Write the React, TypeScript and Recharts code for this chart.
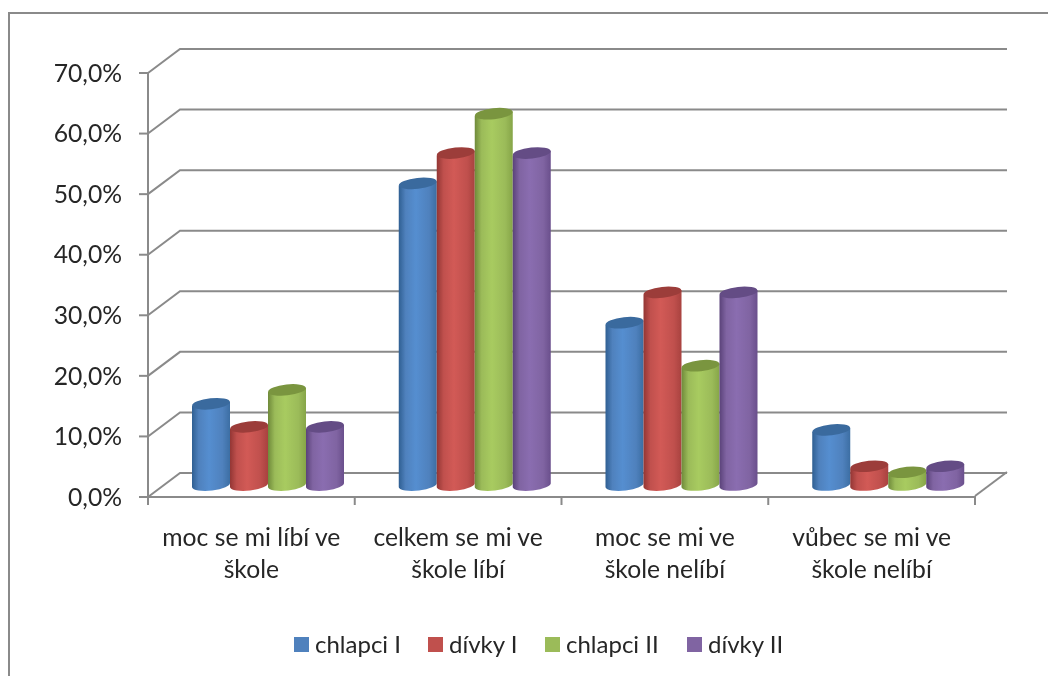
import { Bar, BarChart, CartesianGrid, Legend, XAxis, YAxis } from "recharts";

const categories = [
  ["moc se mi líbí ve", "škole"],
  ["celkem se mi ve", "škole líbí"],
  ["moc se mi ve", "škole nelíbí"],
  ["vůbec se mi ve", "škole nelíbí"],
];
const chlapciI = [13.4, 49.8, 26.8, 9.1];
const divkyI = [9.6, 54.8, 31.8, 3.1];
const chlapciII = [15.7, 61.3, 19.7, 2.1];
const divkyII = [9.6, 54.8, 31.8, 3.1];
const yTicks = [0, 10, 20, 30, 40, 50, 60, 70];

const seriesNames = ["chlapci I", "dívky I", "chlapci II", "dívky II"];
const seriesData = [chlapciI, divkyI, chlapciII, divkyII];
const seriesColors = ["#4f81bd", "#c0504d", "#9bbb59", "#8064a2"];
const seriesGradients = [
  ["#2f5f92", "#558ed0", "#3c6ea3", "#3a6a9e"],
  ["#933634", "#d25a56", "#a8423f", "#9c3d3a"],
  ["#6f8a3a", "#a8cb60", "#86a548", "#7a953f"],
  ["#5a4279", "#8a6db0", "#6a4f8c", "#644c85"],
];

const data = categories.map((c, i) => {
  const row: any = { name: c.join(" ") };
  seriesNames.forEach((n, s) => (row[n] = seriesData[s][i]));
  return row;
});

const WIDTH = 1048;
const HEIGHT = 676;
const LEFT = 148;
const RIGHT = 975;
const TOP = 73;
const BOTTOM = 496;
const DEPTH_X = 32;
const DEPTH_Y = 24;
const LEGEND_H = 29; // the legend takes this off the plot area
const LEGEND_ITEM_W = [134, 117, 142, 100];
const CAT_W = (RIGHT - LEFT) / categories.length;
const AXIS = "#8a8a8a";
const TEXT = "#262626";
const FONT = "Lato, 'Open Sans', sans-serif";
const AXIS_FONT_SIZE = 24.7;
const LEGEND_FONT_SIZE = 24;

function Cylinder({ x, y, width, height, index }: any) {
  const s = index;
  const cx = x + DEPTH_X / 2;
  const top = y - DEPTH_Y / 2;
  const bot = top + height;
  const t = 2.2;
  const rx = width / 2;
  const ry = 5.5;
  const rot = -6;
  const body = `M${cx},${top + t} L${cx},${bot + t} A${rx},${ry} ${rot} 0 0 ${cx + width},${bot - t} L${cx + width},${top - t} Z`;
  return (
    <g>
      <path d={body} fill={`url(#cyl${s})`} />
      <ellipse
        cx={cx + rx}
        cy={top}
        rx={rx}
        ry={ry}
        transform={`rotate(${rot} ${cx + rx} ${top})`}
        fill={seriesGradients[s][3]}
      />
    </g>
  );
}

function GridLine({ x1, y1, x2 }: any) {
  return (
    <polyline
      points={`${x1},${y1} ${x1 + DEPTH_X},${y1 - DEPTH_Y} ${x2 + DEPTH_X},${y1 - DEPTH_Y}`}
      fill="none"
      stroke={AXIS}
      strokeWidth={2}
    />
  );
}

function CategoryTick({ x, payload, index }: any) {
  const lines = categories[index] ?? [payload.value];
  const left = x - CAT_W / 2;
  return (
    <g>
      <line x1={left} x2={left} y1={BOTTOM} y2={BOTTOM + 9} stroke={AXIS} strokeWidth={2} />
      {index === categories.length - 1 && (
        <>
          <line x1={left + CAT_W} x2={left + CAT_W} y1={BOTTOM} y2={BOTTOM + 9} stroke={AXIS} strokeWidth={2} />
          <line x1={left + CAT_W} x2={left + CAT_W + DEPTH_X} y1={BOTTOM} y2={BOTTOM - DEPTH_Y} stroke={AXIS} strokeWidth={2} />
        </>
      )}
      {lines.map((l: string, i: number) => (
        <text key={i} x={x} y={546 + i * 32} textAnchor="middle" fontSize={AXIS_FONT_SIZE} fontFamily={FONT} fill={TEXT}>
          {l}
        </text>
      ))}
    </g>
  );
}

function ChartLegend() {
  return (
    <div style={{ display: "flex", fontFamily: FONT, fontSize: LEGEND_FONT_SIZE, color: TEXT, lineHeight: "28px" }}>
      {seriesNames.map((n, i) => (
        <div key={n} style={{ display: "flex", alignItems: "center", width: LEGEND_ITEM_W[i] }}>
          <span style={{ width: 15, height: 15, background: seriesColors[i], marginRight: 6 }} />
          {n}
        </div>
      ))}
    </div>
  );
}

export default function App() {
  return (
    <div
      style={{
        position: "absolute",
        left: 0,
        top: 0,
        width: WIDTH,
        height: HEIGHT,
        overflow: "hidden",
        background: "#fff",
        filter: "blur(0.5px)",
      }}
    >
      <div
        style={{
          position: "absolute",
          left: 8,
          top: 12,
          width: 1100,
          height: 700,
          border: `2px solid ${AXIS}`,
          boxSizing: "border-box",
        }}
      />
      <BarChart
        width={WIDTH}
        height={HEIGHT}
        data={data}
        margin={{ top: TOP, right: WIDTH - RIGHT, bottom: 0, left: 0 }}
        barCategoryGap={28}
        barGap={0}
        style={{ position: "absolute", left: 0, top: 0 }}
      >
        <defs>
          {seriesGradients.map((g, i) => (
            <linearGradient key={i} id={`cyl${i}`} x1="0" x2="1" y1="0" y2="0">
              <stop offset="0%" stopColor={g[0]} />
              <stop offset="18%" stopColor={seriesColors[i]} />
              <stop offset="45%" stopColor={g[1]} />
              <stop offset="80%" stopColor={seriesColors[i]} />
              <stop offset="100%" stopColor={g[2]} />
            </linearGradient>
          ))}
        </defs>
        <CartesianGrid vertical={false} horizontal={(p: any) => <GridLine key={p.key} {...p} />} />
        <XAxis
          dataKey="name"
          interval={0}
          tickLine={false}
          height={HEIGHT - BOTTOM - LEGEND_H}
          axisLine={{ stroke: AXIS, strokeWidth: 2 }}
          tick={<CategoryTick />}
        />
        <YAxis
          width={LEFT}
          domain={[0, 70]}
          ticks={yTicks}
          interval={0}
          tickFormatter={(v: number) => `${v.toFixed(1).replace(".", ",")}%`}
          tick={{ fontSize: AXIS_FONT_SIZE, fontFamily: FONT, fill: TEXT }}
          tickLine={{ stroke: AXIS, strokeWidth: 2 }}
          tickSize={9}
          tickMargin={17}
          axisLine={{ stroke: AXIS, strokeWidth: 2 }}
        />
        <Legend
          content={<ChartLegend />}
          wrapperStyle={{ position: "absolute", left: 294, top: 630, width: 560, bottom: "auto" }}
        />
        {seriesNames.map((n, i) => (
          <Bar
            key={n}
            dataKey={n}
            fill={seriesColors[i]}
            isAnimationActive={false}
            shape={(p: any) => <Cylinder {...p} index={i} />}
          />
        ))}
      </BarChart>
    </div>
  );
}
